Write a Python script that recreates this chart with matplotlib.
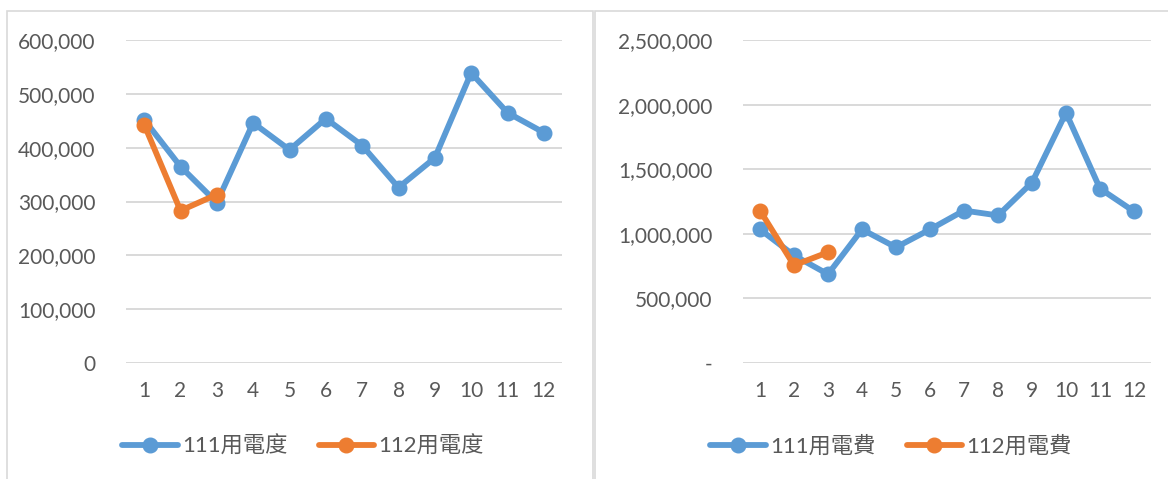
import matplotlib.pyplot as plt
from matplotlib.patches import Rectangle
from matplotlib.ticker import FuncFormatter

months = [1, 2, 3, 4, 5, 6, 7, 8, 9, 10, 11, 12]
kwh_111 = [452000, 365000, 298000, 446000, 396000, 454000, 404000, 326000, 381000, 539000, 465000, 428000]
kwh_112 = [443000, 283000, 313000]
fee_111 = [1034000, 833000, 687000, 1034000, 895000, 1034000, 1180000, 1142000, 1397000, 1937000, 1350000, 1173000]
fee_112 = [1180000, 756000, 857000]

label_kwh = ['111用電度', '112用電度']
label_fee = ['111用電費', '112用電費']

BLUE = '#5B9BD5'
ORANGE = '#ED7D31'
GRID = '#D9D9D9'
TEXT = '#595959'
FONT = ['Lato', 'Noto Sans CJK TC']

plt.rcParams['font.family'] = FONT

W, H = 1168, 479
fig = plt.figure(figsize=(W / 100, H / 100), dpi=100)


def px_axes(x0, x1, y0, y1):
    # pixel box (top-left origin) -> figure axes
    return fig.add_axes([x0 / W, 1 - y1 / H, (x1 - x0) / W, (y1 - y0) / H])


def draw(ax, a, b, labels, ymax, step, zero_text, leg_x):
    ax.plot(months, a, color=BLUE, lw=4.2, marker='o', ms=10.5, label=labels[0],
            solid_capstyle='round', solid_joinstyle='round', zorder=3)
    ax.plot(months[:len(b)], b, color=ORANGE, lw=4.2, marker='o', ms=10.5, label=labels[1],
            solid_capstyle='round', solid_joinstyle='round', zorder=4)
    ax.set_xlim(0.5, 12.5)
    ax.set_ylim(0, ymax)
    ax.set_yticks(range(0, ymax + 1, step))
    ax.yaxis.set_major_formatter(FuncFormatter(
        lambda v, p: zero_text if v == 0 else '{:,}'.format(int(v))))
    ax.set_xticks(months)
    ax.grid(axis='y', color=GRID, lw=1.4)
    ax.set_axisbelow(True)
    for s in ax.spines.values():
        s.set_visible(False)
    ax.tick_params(length=0, colors=TEXT, labelsize=15)
    ax.tick_params(axis='y', pad=22)
    ax.tick_params(axis='x', pad=13)
    ax.legend(loc='center', bbox_to_anchor=(leg_x / W, 1 - 446 / H),
              bbox_transform=fig.transFigure, ncol=2, frameon=False,
              fontsize=16, labelcolor=TEXT, handlelength=2.5,
              handletextpad=0.2, columnspacing=1.4)


ax1 = px_axes(126, 562, 40, 363)
draw(ax1, kwh_111, kwh_112, label_kwh, 600000, 100000, '0', 303)

ax2 = px_axes(743, 1151, 40, 363)
draw(ax2, fee_111, fee_112, label_fee, 2500000, 500000, '-', 891)

# chart frames
fig.patches.append(Rectangle((7 / W, -0.05), 586 / W, 1 - 11 / H + 0.05,
                             transform=fig.transFigure, fill=False,
                             edgecolor=GRID, lw=1.2))
fig.patches.append(Rectangle((595 / W, -0.05), 600 / W, 1 - 11 / H + 0.05,
                             transform=fig.transFigure, fill=False,
                             edgecolor=GRID, lw=1.2))

fig.savefig('out.png', dpi=100)
